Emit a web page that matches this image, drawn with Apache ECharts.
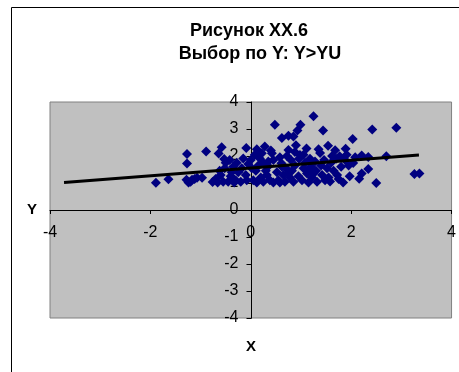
<!DOCTYPE html>
<html>
<head>
<meta charset="utf-8">
<script src="https://cdn.jsdelivr.net/npm/echarts@6/dist/echarts.min.js"></script>
<style>
    html, body { margin: 0; padding: 0; background: #fff; }
    #chart { width: 459px; height: 372px; }
</style>
</head>
<body>
<div id="chart"></div>
<script>
// точки выборки (Y > YU)
const xValues = [
    -1.89, -1.64, -1.27, -1.27, -1.28, -1.24, -1.17, -1.07, -0.97, -1.20, -1.12,
    -0.89, -0.76, -0.64, -0.58, -0.53, -0.70, -0.60, -0.55, -0.66, -0.52, -0.62, -0.50,
    -0.45, -0.40, -0.35, -0.30, -0.25, -0.20, -0.15, -0.09, -0.10, -0.05, -0.42, -0.33, -0.18, -0.08, -0.28, -0.38,
    0.00, 0.05, 0.08, 0.10, 0.12, 0.15, 0.18, 0.20, 0.22, 0.25, 0.28, 0.30, 0.32, 0.35, 0.38, 0.40, 0.42, 0.45, 0.48, 0.45, 0.02, 0.12, 0.35, 0.25,
    0.52, 0.55, 0.58, 0.61, 0.62, 0.75, 0.85, 0.65, 0.68, 0.70, 0.72, 0.75, 0.78, 0.80, 0.82, 0.85, 0.88, 0.90, 0.93, 0.95, 0.98, 0.99, 0.96, 0.58, 0.75, 0.62, 0.88,
    1.02, 1.05, 1.08, 1.11, 1.12, 1.15, 1.18, 1.20, 1.22, 1.25, 1.28, 1.30, 1.32, 1.35, 1.38, 1.40, 1.42, 1.44, 1.46, 1.48, 1.05, 1.25, 1.15,
    1.52, 1.54, 1.55, 1.58, 1.60, 1.65, 1.68, 1.70, 1.72, 1.77, 1.80, 1.84, 1.88, 1.91, 1.89, 1.95, 1.97, 1.62, 1.75,
    2.03, 2.04, 2.08, 2.16, 2.21, 2.21, 2.34, 2.34, 2.42, 2.50, 2.70, 2.90, 3.26, 3.36
];
const yValues = [
    1.01, 1.14, 2.07, 1.72, 1.12, 1.02, 1.12, 1.19, 1.19, 1.05, 1.15,
    2.17, 1.04, 2.09, 2.32, 1.89, 1.15, 1.30, 1.05, 1.02, 1.55, 1.45, 1.75,
    1.05, 1.25, 1.60, 1.10, 1.40, 1.05, 1.91, 2.30, 1.30, 1.70, 1.85, 1.02, 1.55, 1.10, 1.75, 1.40,
    1.85, 1.10, 2.05, 1.45, 1.02, 1.65, 1.91, 1.20, 2.10, 1.05, 2.35, 1.45, 1.30, 1.80, 1.10, 2.20, 2.10, 1.85, 3.16, 1.02, 1.55, 2.25, 1.62, 1.75,
    1.40, 1.10, 1.95, 1.73, 2.67, 2.75, 2.72, 1.30, 1.05, 1.55, 2.00, 2.22, 1.20, 1.85, 1.45, 1.05, 1.65, 2.40, 2.94, 1.25, 2.04, 3.16, 1.90, 1.02, 1.38, 1.60, 2.15,
    1.10, 1.55, 1.75, 2.28, 1.35, 1.02, 1.90, 1.60, 1.20, 3.47, 1.80, 1.45, 1.05, 2.25, 2.11, 1.65, 1.30, 2.94, 1.85, 1.10, 2.05, 1.35, 1.50,
    1.55, 2.38, 1.20, 1.06, 1.75, 1.45, 2.21, 1.90, 1.30, 1.99, 1.60, 1.02, 1.85, 2.05, 2.27, 1.65, 1.25, 2.00, 1.15,
    2.63, 1.74, 1.95, 1.16, 1.35, 2.02, 1.52, 1.96, 2.98, 1.00, 1.99, 3.05, 1.33, 1.35
];
// линия тренда (концы)
const trendX = [-3.72, 3.35];
const trendY = [1.02, 2.04];

const points = xValues.map((x, i) => [x, yValues[i]]);
const trend = trendX.map((x, i) => [x, trendY[i]]);

const chart = echarts.init(document.getElementById('chart'));
const fontFamily = 'Arial, "Liberation Sans", sans-serif';

// оси пересекаются в нуле: сдвигаем их на середину области построения
const gridLeft = 50, gridRight = 6, gridTop = 102, gridBottom = 54;
const plotW = 459 - gridLeft - gridRight;
const plotH = 372 - gridTop - gridBottom;

const option = {
    animation: false,
    backgroundColor: '#fff',
    grid: {
        show: true,
        left: gridLeft,
        right: gridRight,
        top: gridTop,
        bottom: gridBottom,
        backgroundColor: '#c0c0c0',
        borderColor: '#808080',
        borderWidth: 1
    },
    graphic: [
        {
            type: 'rect',
            shape: { x: 11.5, y: 7.5, width: 448, height: 380 },
            style: { fill: 'none', stroke: '#000', lineWidth: 1 },
            silent: true
        },
        {
            type: 'text', x: 249, y: 22,
            style: { text: 'Рисунок XX.6', textAlign: 'center', font: 'bold 18px ' + fontFamily, fill: '#000' }
        },
        {
            type: 'text', x: 260, y: 45,
            style: { text: 'Выбор по Y: Y>YU', textAlign: 'center', font: 'bold 18px ' + fontFamily, fill: '#000' }
        },
        {
            type: 'text', x: 32, y: 210,
            style: { text: 'Y', textAlign: 'center', textVerticalAlign: 'middle', font: 'bold 15px ' + fontFamily, fill: '#000' }
        },
        {
            type: 'text', x: 251, y: 347,
            style: { text: 'X', textAlign: 'center', textVerticalAlign: 'middle', font: 'bold 15px ' + fontFamily, fill: '#000' }
        }
    ],
    xAxis: {
        type: 'value',
        min: -4,
        max: 4,
        interval: 2,
        position: 'bottom',
        offset: -plotH / 2,
        axisLine: { onZero: false, lineStyle: { color: '#000', width: 1 } },
        axisTick: { show: true, inside: false, length: 4, lineStyle: { color: '#000' } },
        axisLabel: { color: '#000', fontSize: 16, fontFamily: fontFamily, margin: 15 },
        splitLine: { show: false }
    },
    yAxis: {
        type: 'value',
        min: -4,
        max: 4,
        interval: 1,
        position: 'left',
        offset: -plotW / 2,
        axisLine: { onZero: false, lineStyle: { color: '#000', width: 1 } },
        axisTick: { show: true, inside: false, length: 5, lineStyle: { color: '#000' } },
        axisLabel: { color: '#000', fontSize: 16, fontFamily: fontFamily, margin: 13 },
        splitLine: { show: false }
    },
    series: [
        {
            type: 'scatter',
            data: points,
            symbol: 'diamond',
            symbolSize: 10,
            itemStyle: { color: '#000080', opacity: 1 },
            z: 3
        },
        {
            type: 'line',
            data: trend,
            showSymbol: false,
            symbol: 'none',
            lineStyle: { color: '#000', width: 3 },
            z: 4
        }
    ]
};
chart.setOption(option);
</script>
</body>
</html>
